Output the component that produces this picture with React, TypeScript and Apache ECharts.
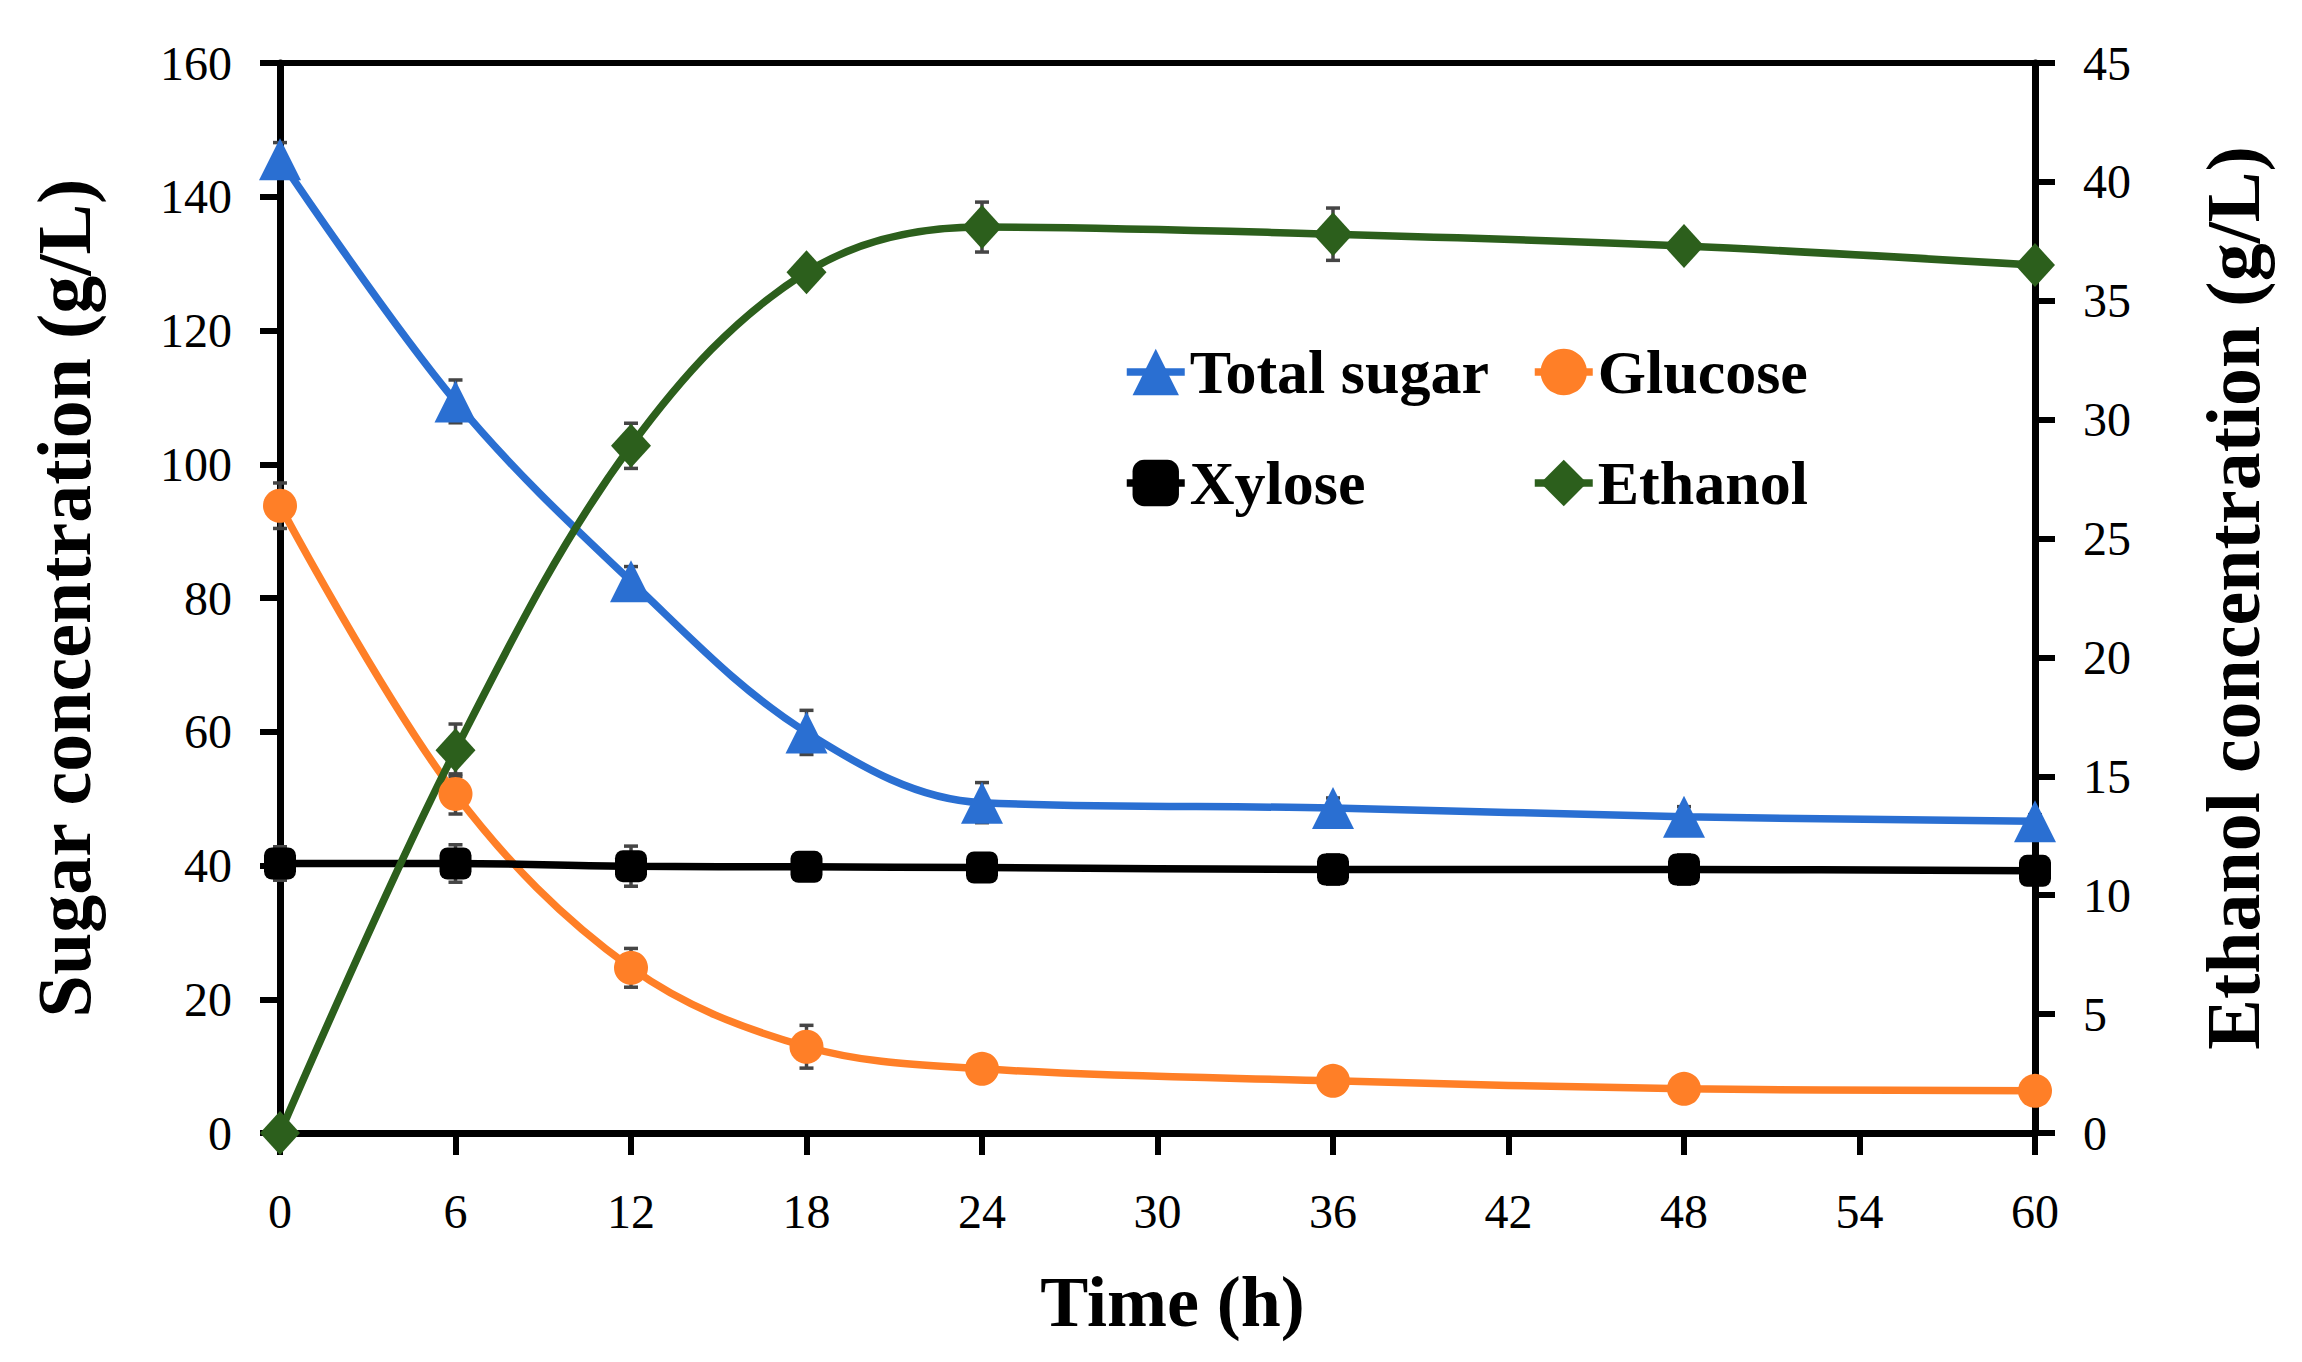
import React, { useEffect, useRef } from 'react';
import * as echarts from 'echarts';

// 取样时间 (h)
const timeH = [0, 6, 12, 18, 24, 36, 48, 60];

// 左轴：糖浓度 (g/L)
const totalSugar = [145.6, 109.4, 82.5, 59.9, 49.4, 48.6, 47.3, 46.6];
const totalSugarErr = [2.5, 3.2, 2.2, 3.3, 3.0, 1.5, 1.5, 1.0];
const glucose = [93.8, 50.7, 24.7, 12.9, 9.6, 7.8, 6.6, 6.3];
const glucoseErr = [3.4, 3.0, 2.9, 3.2, 1.0, 1.0, 1.0, 0.8];
const xylose = [40.3, 40.3, 39.9, 39.8, 39.7, 39.4, 39.4, 39.2];
const xyloseErr = [2.5, 2.8, 3.0, 1.5, 1.5, 2.2, 2.2, 1.0];

// 右轴：乙醇浓度 (g/L)
const ethanol = [0, 16.1, 28.9, 36.2, 38.1, 37.8, 37.3, 36.5];
const ethanolErr = [0.3, 1.1, 0.95, 0.5, 1.05, 1.1, 0.5, 0.4];

const xTicks = { min: 0, max: 60, interval: 6 };
const leftTicks = { min: 0, max: 160, interval: 20 };
const rightTicks = { min: 0, max: 45, interval: 5 };

const FONT = '"Liberation Serif", "Times New Roman", serif';
const BLUE = '#2A6FD2';
const ORANGE = '#FF7F27';
const GREEN = '#2C5F1C';
const BLACK = '#000000';

const pairs = (ys: number[]) => timeH.map((t, i) => [t, ys[i]]);
const errPairs = (ys: number[], es: number[]) => timeH.map((t, i) => [t, ys[i], es[i]]);

const errorSeries = (name: string, ys: number[], es: number[], yAxisIndex: number) => ({
  name,
  type: 'custom',
  yAxisIndex,
  z: 1,
  silent: true,
  data: errPairs(ys, es),
  renderItem: (_params: any, api: any) => {
    const x = api.value(0);
    const y = api.value(1);
    const e = api.value(2);
    const top = api.coord([x, y + e]);
    const bot = api.coord([x, y - e]);
    const cap = 7;
    const style = { stroke: '#454545', lineWidth: 3.5 };
    return {
      type: 'group',
      children: [
        { type: 'line', shape: { x1: top[0], y1: top[1], x2: bot[0], y2: bot[1] }, style },
        { type: 'line', shape: { x1: top[0] - cap, y1: top[1], x2: top[0] + cap, y2: top[1] }, style },
        { type: 'line', shape: { x1: bot[0] - cap, y1: bot[1], x2: bot[0] + cap, y2: bot[1] }, style },
      ],
    };
  },
});

const lineSeries = (
  name: string,
  ys: number[],
  color: string,
  symbol: string,
  symbolSize: number | number[],
  yAxisIndex = 0,
) => ({
  name,
  type: 'line',
  yAxisIndex,
  z: 3,
  data: pairs(ys),
  smooth: 0.35,
  symbol,
  symbolSize,
  showAllSymbol: true,
  clip: false,
  lineStyle: { color, width: 7.5 },
  itemStyle: { color, borderWidth: 0 },
});

const axisCommon = {
  axisLine: { show: true, lineStyle: { color: '#000', width: 7 } },
  axisTick: { show: true, inside: false, length: 20, lineStyle: { color: '#000', width: 6 } },
  splitLine: { show: false },
  axisLabel: { color: '#000', fontFamily: FONT, fontSize: 48, margin: 48 },
};

const legendText = { color: '#000', fontFamily: FONT, fontSize: 62, fontWeight: 'bold' as const, lineHeight: 62 };

const legendBase = {
  orient: 'vertical',
  top: 336,
  itemWidth: 58,
  itemHeight: 58,
  itemGap: 49,
  textStyle: legendText,
  lineStyle: { width: 7.5 },
};

const App: React.FC = () => {
  const chartRef = useRef<HTMLDivElement>(null);

  useEffect(() => {
    if (!chartRef.current) return;
    const chart = echarts.init(chartRef.current, undefined, { renderer: 'svg' });

    const option: any = {
      animation: false,
      backgroundColor: '#ffffff',
      grid: {
        left: 280,
        right: 267,
        top: 63,
        bottom: 229,
        show: true,
        borderColor: '#000',
        borderWidth: 6,
        containLabel: false,
      },
      legend: [
        { ...legendBase, left: 1118, data: ['Total sugar', 'Xylose'] },
        { ...legendBase, left: 1526, data: ['Glucose', 'Ethanol'] },
      ],
      xAxis: {
        type: 'value',
        ...xTicks,
        ...axisCommon,
        axisLabel: { ...axisCommon.axisLabel, margin: 54 },
        axisTick: { ...axisCommon.axisTick, length: 22 },
        name: 'Time (h)',
        nameLocation: 'middle',
        nameGap: 133,
        nameTextStyle: {
          color: '#000',
          fontFamily: FONT,
          fontSize: 72,
          fontWeight: 'bold',
          padding: [0, 0, 0, 30],
        },
      },
      yAxis: [
        {
          type: 'value',
          position: 'left',
          ...leftTicks,
          ...axisCommon,
          name: 'Sugar concentration (g/L)',
          nameLocation: 'middle',
          nameRotate: 90,
          nameGap: 178,
          nameTextStyle: { color: '#000', fontFamily: FONT, fontSize: 76, fontWeight: 'bold' },
        },
        {
          type: 'value',
          position: 'right',
          ...rightTicks,
          ...axisCommon,
          name: 'Ethanol concentration (g/L)',
          nameLocation: 'middle',
          nameRotate: 90,
          nameGap: 160,
          nameTextStyle: { color: '#000', fontFamily: FONT, fontSize: 76, fontWeight: 'bold' },
        },
      ],
      series: [
        errorSeries('err-total', totalSugar, totalSugarErr, 0),
        errorSeries('err-glucose', glucose, glucoseErr, 0),
        errorSeries('err-xylose', xylose, xyloseErr, 0),
        errorSeries('err-ethanol', ethanol, ethanolErr, 1),
        lineSeries('Total sugar', totalSugar, BLUE, 'triangle', 42),
        lineSeries('Glucose', glucose, ORANGE, 'circle', 34),
        lineSeries('Xylose', xylose, BLACK, 'roundRect', 32),
        lineSeries('Ethanol', ethanol, GREEN, 'diamond', [40, 44], 1),
      ],
    };

    chart.setOption(option);

    return () => {
      chart.dispose();
    };
  }, []);

  return (
    <div
      ref={chartRef}
      style={{ position: 'fixed', left: 0, top: 0, width: '2302px', height: '1362px', background: '#fff' }}
    />
  );
};

export default App;
